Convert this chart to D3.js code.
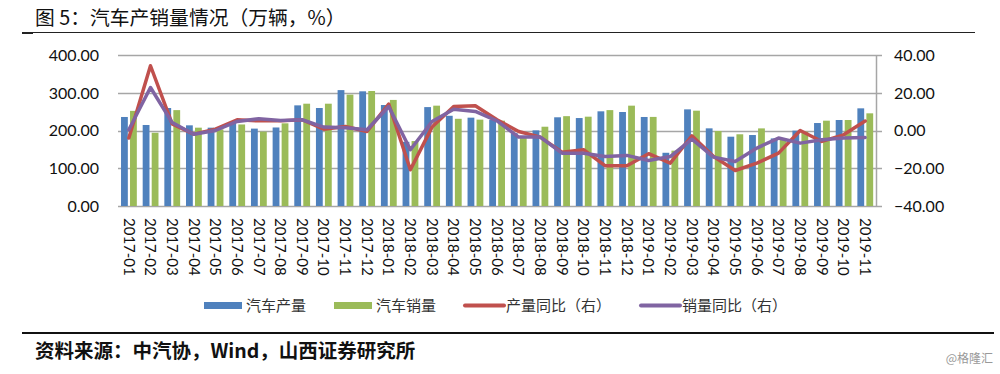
<!DOCTYPE html>
<html><head><meta charset="utf-8">
<script src="https://cdn.jsdelivr.net/npm/d3@7"></script>
<style>
html,body{margin:0;padding:0;background:#fff;}
svg{display:block;}
</style></head>
<body>
<svg id="c" width="1000" height="374"></svg>
<script>
const months = ["2017-01","2017-02","2017-03","2017-04","2017-05","2017-06","2017-07","2017-08","2017-09","2017-10","2017-11","2017-12",
"2018-01","2018-02","2018-03","2018-04","2018-05","2018-06","2018-07","2018-08","2018-09","2018-10","2018-11","2018-12",
"2019-01","2019-02","2019-03","2019-04","2019-05","2019-06","2019-07","2019-08","2019-09","2019-10","2019-11"];
const production = [235.8,214.6,259.6,213.7,207.5,221.6,205,208,266.6,259.6,307,303.8,267.5,170,262,239,234,227.8,193,200.4,235,233,250.8,249,235.8,141,256,205.7,183.6,188,179,199.6,219.8,227.8,258.7];
const sales = [252,194,254,207.5,203,216,197,219,271,271,295,304.6,281,172,265.8,231,228.8,226,180,210,238,236.6,254,265.8,236,146.6,252.5,198.7,190,205.6,177.5,197,226,227.8,245.5];
const prodYoY = [-4,34.3,3.5,-1.9,0.7,5.7,5.1,5.1,5.7,0.7,2.1,-0.5,14,-20.8,1.8,12.7,13.1,5.7,-0.5,-3.5,-11.5,-10.2,-18.7,-18.7,-12.3,-17.3,-2.8,-13.8,-21.2,-17.3,-12,0,-5.8,-2.3,5];
const salesYoY = [0.4,22.8,4.2,-2,0,4.8,6.2,5.3,5.7,1.8,1.4,0.4,12.7,-10.2,4.8,11.3,10.1,5.1,-3.5,-3.5,-12,-12,-13.8,-13.2,-15.9,-13.8,-4.6,-14.1,-16.4,-9.3,-4,-6.7,-4.9,-4,-3.7];
const leftTicks = [0,100,200,300,400];
const rightTicks = [-40,-20,0,20,40];
const seriesNames = ["汽车产量","汽车销量","产量同比（右）","销量同比（右）"];
const colors = ["#4f81bd","#9bbb59","#c0504d","#8064a2"];

const svg = d3.select("#c");
const L = 118, R = 876, T = 55, B = 206;
const x = d3.scaleBand().domain(months).range([L, R]).padding(0);
const yL = d3.scaleLinear().domain([0,400]).range([B, T]);
const yR = d3.scaleLinear().domain([-40,40]).range([B, T]);
const sansNum = "Lato, 'Open Sans', sans-serif";
const cjk = "'Noto Sans CJK SC', sans-serif";

// title
svg.append("text").attr("x", 35).attr("y", 25).attr("font-family", cjk).attr("font-size", 19.8)
  .attr("fill", "#111").text("图 5：汽车产销量情况（万辆，%）");
svg.append("line").attr("x1", 22).attr("x2", 975).attr("y1", 32.5).attr("y2", 32.5).attr("stroke", "#222").attr("stroke-width", 1.2);
svg.append("line").attr("x1", 22).attr("x2", 33).attr("y1", 33).attr("y2", 33).attr("stroke", "#222").attr("stroke-width", 2);

// gridlines
svg.append("g").selectAll("line").data(leftTicks).join("line")
  .attr("x1", L).attr("x2", R + 6)
  .attr("y1", d => Math.round(yL(d)) + 0.5).attr("y2", d => Math.round(yL(d)) + 0.5)
  .attr("stroke", "#a6a6a6").attr("stroke-width", 1.5);
svg.append("line").attr("x1", R + 0.5).attr("x2", R + 0.5).attr("y1", T).attr("y2", B + 0.5)
  .attr("stroke", "#a6a6a6").attr("stroke-width", 1.5);

// left axis labels
svg.append("g").selectAll("text").data(leftTicks).join("text")
  .attr("x", 99).attr("y", d => yL(d)).attr("dy", "0.36em").attr("text-anchor", "end")
  .attr("font-family", sansNum).attr("font-size", 16).attr("fill", "#111")
  .text(d => d3.format(".2f")(d));
// right axis labels
svg.append("g").selectAll("text").data(rightTicks).join("text")
  .attr("x", 894).attr("y", d => yR(d)).attr("dy", "0.36em").attr("text-anchor", "start")
  .attr("font-family", sansNum).attr("font-size", 16).attr("fill", "#111")
  .text(d => d3.format(".2f")(d));

// bars
const barW = 6.8;
const bars = svg.append("g");
bars.selectAll("rect.p").data(months).join("rect").attr("class","p")
  .attr("x", (m) => x(m) + x.bandwidth()/2 - 7.8)
  .attr("width", barW)
  .attr("y", (m,i) => yL(production[i])).attr("height", (m,i) => B - yL(production[i]))
  .attr("fill", colors[0]);
bars.selectAll("rect.s").data(months).join("rect").attr("class","s")
  .attr("x", (m) => x(m) + x.bandwidth()/2 + 1.2)
  .attr("width", barW)
  .attr("y", (m,i) => yL(sales[i])).attr("height", (m,i) => B - yL(sales[i]))
  .attr("fill", colors[1]);

// lines
const cx = m => x(m) + x.bandwidth()/2;
const lineP = d3.line().x((d,i) => cx(months[i])).y(d => yR(d));
svg.append("path").datum(prodYoY).attr("d", lineP).attr("fill","none")
  .attr("stroke", colors[2]).attr("stroke-width", 3.5).attr("stroke-linejoin","round").attr("stroke-linecap","round");
svg.append("path").datum(salesYoY).attr("d", lineP).attr("fill","none")
  .attr("stroke", colors[3]).attr("stroke-width", 3.5).attr("stroke-linejoin","round").attr("stroke-linecap","round");

// x labels
svg.append("g").selectAll("text").data(months).join("text")
  .attr("transform", m => `translate(${cx(m)},218) rotate(90)`)
  .attr("text-anchor", "start").attr("dy", "0.35em")
  .attr("font-family", sansNum).attr("font-size", 15).attr("fill", "#111")
  .text(m => m);

// legend
const lg = svg.append("g");
const legX = [204, 334, 464, 640];
const ly = 305.5;
[0,1].forEach(k => {
  lg.append("rect").attr("x", legX[k]).attr("y", ly - 3.5).attr("width", 38).attr("height", 7).attr("fill", colors[k]);
});
[2,3].forEach(k => {
  lg.append("line").attr("x1", legX[k] + 1).attr("x2", legX[k] + 40).attr("y1", ly).attr("y2", ly)
    .attr("stroke", colors[k]).attr("stroke-width", 4).attr("stroke-linecap","round");
});
seriesNames.forEach((n,k) => {
  lg.append("text").attr("x", legX[k] + 42).attr("y", ly).attr("dy", "0.36em")
    .attr("font-family", cjk).attr("font-size", 15).attr("fill", "#333").text(n);
});

// bottom rule and source
svg.append("line").attr("x1", 22).attr("x2", 994).attr("y1", 333).attr("y2", 333).attr("stroke", "#111").attr("stroke-width", 2);
svg.append("text").attr("x", 35).attr("y", 358).attr("font-family", cjk).attr("font-size", 19.5)
  .attr("font-weight", "bold").attr("fill", "#111").text("资料来源：中汽协，Wind，山西证券研究所");
svg.append("text").attr("x", 993).attr("y", 363).attr("text-anchor", "end").attr("font-family", cjk).attr("font-size", 12)
  .attr("fill", "#999").text("@格隆汇");
</script>
</body></html>
